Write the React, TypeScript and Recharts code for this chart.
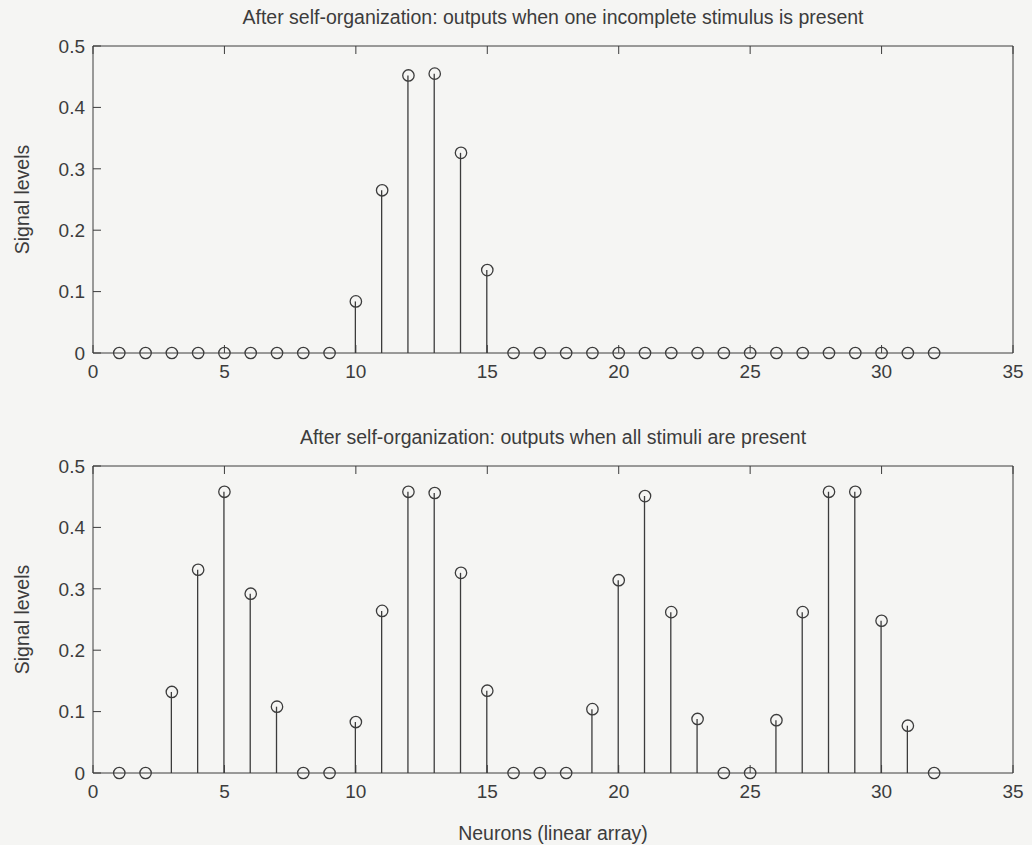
import { ComposedChart, Bar, Line, XAxis, YAxis } from 'recharts'

const neurons = [
  1, 2, 3, 4, 5, 6, 7, 8, 9, 10, 11, 12, 13, 14, 15, 16, 17, 18, 19, 20, 21, 22, 23, 24, 25, 26, 27, 28, 29, 30, 31, 32,
]
const oneStimulus = [
  0, 0, 0, 0, 0, 0, 0, 0, 0, 0.084, 0.265, 0.452, 0.455, 0.326, 0.135, 0, 0, 0, 0, 0, 0, 0, 0, 0, 0, 0, 0, 0, 0, 0, 0,
  0,
]
const allStimuli = [
  0, 0, 0.132, 0.331, 0.458, 0.292, 0.108, 0, 0, 0.083, 0.264, 0.458, 0.456, 0.326, 0.134, 0, 0, 0, 0.104, 0.314,
  0.451, 0.262, 0.088, 0, 0, 0.086, 0.262, 0.458, 0.458, 0.248, 0.077, 0,
]
const xTicks = [0, 5, 10, 15, 20, 25, 30, 35]
const yTicks = [0, 0.1, 0.2, 0.3, 0.4, 0.5]

const INK = '#3c3c3c'
const FONT = 'Liberation Sans, Arial, sans-serif'
const TICK_LEN = 8

// matlab style: ticks point into the box, labels sit outside
const BottomTick = (p: any) => (
  <g>
    <line x1={p.x} x2={p.x} y1={p.y} y2={p.y - TICK_LEN} stroke={INK} />
    <text x={p.x} y={p.y + 12} dy="0.71em" textAnchor="middle" fontSize={19} fill={INK} fontFamily={FONT}>
      {p.payload.value}
    </text>
  </g>
)
const TopTick = (p: any) => <line x1={p.x} x2={p.x} y1={p.y} y2={p.y + TICK_LEN} stroke={INK} />
const LeftTick = (p: any) => (
  <g>
    <line x1={p.x} x2={p.x + TICK_LEN} y1={p.y} y2={p.y} stroke={INK} />
    <text x={p.x - 8} y={p.y} dy="0.355em" textAnchor="end" fontSize={19} fill={INK} fontFamily={FONT}>
      {p.payload.value}
    </text>
  </g>
)
const RightTick = (p: any) => <line x1={p.x} x2={p.x - TICK_LEN} y1={p.y} y2={p.y} stroke={INK} />

function StemPanel({
  values,
  title,
  xLabel,
  height,
}: {
  values: number[]
  title: string
  xLabel?: string
  height: number
}) {
  const data = neurons.map((n, i) => ({ n, v: values[i] }))
  const xAxisHeight = xLabel ? 70 : 30
  const bottom = height - 46 - 307 - xAxisHeight
  return (
    <div style={{ position: 'relative', width: 1032, height }}>
      <div
        style={{
          position: 'absolute',
          left: 93,
          width: 920,
          top: 6,
          textAlign: 'center',
          fontFamily: FONT,
          fontSize: 19.5,
          color: INK,
        }}
      >
        {title}
      </div>
      <ComposedChart
        width={1032}
        height={height}
        data={data}
        margin={{ top: 45, right: 18, left: 13, bottom }}
      >
        <XAxis
          dataKey="n"
          type="number"
          domain={[0, 35]}
          ticks={xTicks}
          interval={0}
          stroke={INK}
          tickLine={false}
          tickSize={0}
          tickMargin={0}
          height={xAxisHeight}
          tick={BottomTick}
          label={
            xLabel
              ? {
                  value: xLabel,
                  position: 'insideBottom',
                  offset: 3,
                  style: { fontSize: 19.5, fill: INK, fontFamily: FONT },
                }
              : undefined
          }
        />
        <XAxis
          xAxisId="top"
          orientation="top"
          dataKey="n"
          type="number"
          domain={[0, 35]}
          ticks={xTicks}
          interval={0}
          stroke={INK}
          tickLine={false}
          tickSize={0}
          tickMargin={0}
          tick={TopTick}
          height={1}
        />
        <YAxis
          domain={[0, 0.5]}
          ticks={yTicks}
          interval={0}
          stroke={INK}
          width={80}
          tickLine={false}
          tickSize={0}
          tickMargin={0}
          tick={LeftTick}
          label={{
            value: 'Signal levels',
            angle: -90,
            position: 'insideLeft',
            offset: 9,
            style: { fontSize: 19.5, fill: INK, fontFamily: FONT, textAnchor: 'middle' },
          }}
        />
        <YAxis
          yAxisId="right"
          orientation="right"
          domain={[0, 0.5]}
          ticks={yTicks}
          interval={0}
          stroke={INK}
          width={1}
          tickLine={false}
          tickSize={0}
          tickMargin={0}
          tick={RightTick}
        />
        <Bar dataKey="v" fill={INK} barSize={1.3} isAnimationActive={false} />
        <Line
          dataKey="v"
          stroke="none"
          dot={{ r: 5.7, fill: 'none', stroke: INK, strokeWidth: 1.3 }}
          activeDot={false}
          isAnimationActive={false}
        />
      </ComposedChart>
    </div>
  )
}

export default function App() {
  return (
    <div
      style={{
        position: 'absolute',
        left: 0,
        top: 0,
        width: 1032,
        height: 845,
        background: '#f5f5f3',
        overflow: 'hidden',
      }}
    >
      <StemPanel
        values={oneStimulus}
        title="After self-organization: outputs when one incomplete stimulus is present"
        height={420}
      />
      <StemPanel
        values={allStimuli}
        title="After self-organization: outputs when all stimuli are present"
        xLabel="Neurons (linear array)"
        height={425}
      />
    </div>
  )
}
